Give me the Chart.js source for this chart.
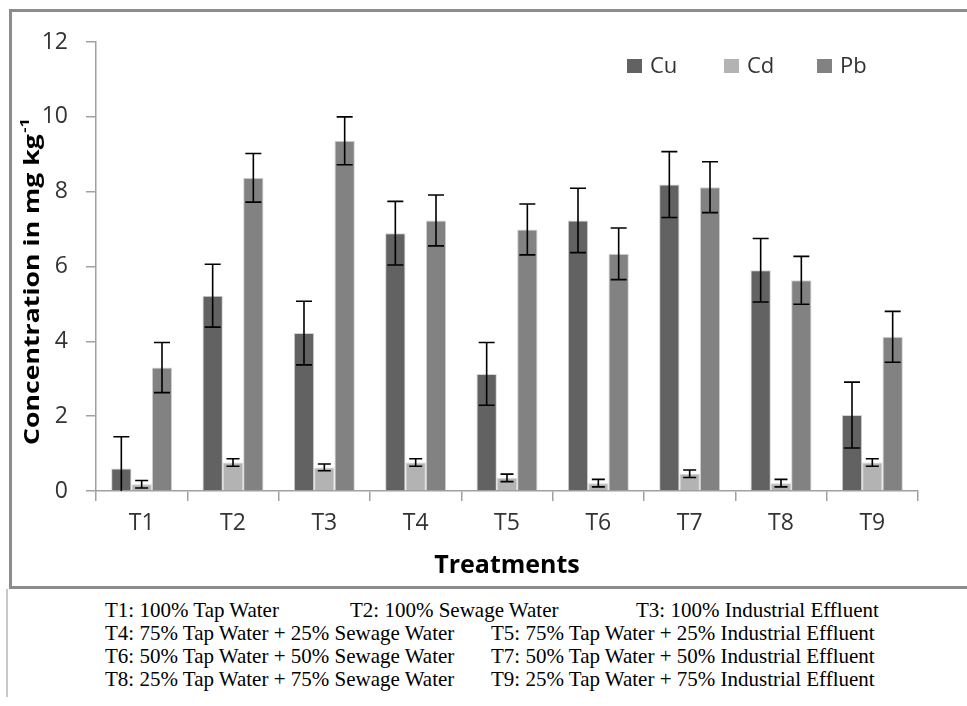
<!DOCTYPE html>
<html>
<head>
<meta charset="utf-8">
<script src="https://cdn.jsdelivr.net/npm/chart.js@4.4.1/dist/chart.umd.min.js"></script>
<style>
  html, body { margin: 0; padding: 0; background: #fff; }
  body { width: 967px; height: 706px; position: relative; overflow: hidden; }
  #wrap { position: absolute; left: 0; top: 0; width: 967px; height: 585px; }
  #frame { position: absolute; left: 9px; top: 9px; width: 980px; height: 574px;
           border: 3px solid #8c8c8c; pointer-events: none; }
  #lowline { position: absolute; left: 6px; top: 589px; width: 2px; height: 108px; background: #c8c8c8; }
  .note { position: absolute; font-family: "Liberation Serif", "Times New Roman", serif;
          font-size: 21px; color: #000; white-space: nowrap; line-height: 23px; }
</style>
</head>
<body>
<div id="wrap"><canvas id="chart" width="967" height="585"></canvas></div>
<div id="frame"></div>
<div id="lowline"></div>

<div class="note" style="left:105px; top:599px">T1: 100% Tap Water</div>
<div class="note" style="left:350px; top:599px">T2: 100% Sewage Water</div>
<div class="note" style="left:636px; top:599px">T3: 100% Industrial Effluent</div>
<div class="note" style="left:105px; top:622px">T4: 75% Tap Water + 25% Sewage Water</div>
<div class="note" style="left:491px; top:622px">T5: 75% Tap Water + 25% Industrial Effluent</div>
<div class="note" style="left:105px; top:645px">T6: 50% Tap Water + 50% Sewage Water</div>
<div class="note" style="left:491px; top:645px">T7: 50% Tap Water + 50% Industrial Effluent</div>
<div class="note" style="left:105px; top:668px">T8: 25% Tap Water + 75% Sewage Water</div>
<div class="note" style="left:491px; top:668px">T9: 25% Tap Water + 75% Industrial Effluent</div>

<script>
// Data
const treatments = ['T1', 'T2', 'T3', 'T4', 'T5', 'T6', 'T7', 'T8', 'T9'];
const cu    = [0.60, 5.22, 4.22, 6.89, 3.13, 7.23, 8.19, 5.90, 2.03];
const cuErr = [0.85, 0.84, 0.85, 0.85, 0.84, 0.86, 0.88, 0.85, 0.88];
const cd    = [0.18, 0.76, 0.63, 0.76, 0.35, 0.21, 0.46, 0.21, 0.76];
const cdErr = [0.10, 0.10, 0.09, 0.10, 0.10, 0.10, 0.10, 0.10, 0.10];
const pb    = [3.30, 8.37, 9.36, 7.23, 6.99, 6.34, 8.12, 5.63, 4.12];
const pbErr = [0.67, 0.65, 0.64, 0.68, 0.68, 0.69, 0.68, 0.64, 0.68];
const yTicks = [0, 2, 4, 6, 8, 10, 12];

const TXT = '#333333';
const FONT = '"Open Sans", "Liberation Sans", sans-serif';

// Error bars drawn on top of each bar
const errorBars = {
  id: 'errorBars',
  afterDatasetsDraw(chart) {
    const { ctx, scales: { y }, chartArea } = chart;
    ctx.save();
    ctx.strokeStyle = '#000';
    ctx.lineWidth = 1.6;
    chart.data.datasets.forEach((ds, di) => {
      const meta = chart.getDatasetMeta(di);
      const half = ds.capHalf || 8;
      meta.data.forEach((bar, i) => {
        const v = ds.data[i], e = ds.errors[i];
        const top = y.getPixelForValue(v + e);
        const bot = Math.min(y.getPixelForValue(v - e), chartArea.bottom);
        ctx.beginPath();
        ctx.moveTo(bar.x, top); ctx.lineTo(bar.x, bot);
        ctx.moveTo(bar.x - half, top); ctx.lineTo(bar.x + half, top);
        if (v - e > 0) { ctx.moveTo(bar.x - half, bot); ctx.lineTo(bar.x + half, bot); }
        ctx.stroke();
      });
    });
    ctx.restore();
  }
};

// Legend inside the plot, top right
const legendBox = {
  id: 'legendBox',
  afterDraw(chart) {
    const ctx = chart.ctx;
    const xs = [627, 724, 817];
    const cy = 66;
    ctx.save();
    ctx.font = '22px ' + FONT;
    ctx.textBaseline = 'middle';
    chart.data.datasets.forEach((ds, i) => {
      ctx.fillStyle = ds.backgroundColor;
      ctx.fillRect(xs[i], cy - 7, 15, 14);
      ctx.fillStyle = TXT;
      ctx.fillText(ds.label, xs[i] + 23, cy + 1);
    });
    ctx.restore();
  }
};

// Rotated y-axis title with superscript
const yTitle = {
  id: 'yTitle',
  afterDraw(chart) {
    const ctx = chart.ctx;
    ctx.save();
    ctx.translate(33, 445);
    ctx.rotate(-Math.PI / 2);
    ctx.scale(1.27, 1);
    ctx.fillStyle = '#000';
    ctx.textBaseline = 'middle';
    ctx.font = 'bold 21px ' + FONT;
    const main = 'Concentration in mg kg';
    ctx.fillText(main, 0, 0);
    const w = ctx.measureText(main).width;
    ctx.font = 'bold 13px ' + FONT;
    ctx.fillText('-1', w + 1, -8);
    ctx.restore();
  }
};

new Chart(document.getElementById('chart'), {
  type: 'bar',
  data: {
    labels: treatments,
    datasets: [
      { label: 'Cu', data: cu, errors: cuErr, capHalf: 8, backgroundColor: '#626262' },
      { label: 'Cd', data: cd, errors: cdErr, capHalf: 6.5, backgroundColor: '#b3b3b3' },
      { label: 'Pb', data: pb, errors: pbErr, capHalf: 8, backgroundColor: '#828282' }
    ]
  },
  options: {
    responsive: false,
    animation: false,
    layout: { padding: { left: 0, right: 49, top: 42, bottom: 0 } },
    datasets: {
      bar: { categoryPercentage: 0.668, barPercentage: 1, borderWidth: 1, borderColor: '#d4d4d4' }
    },
    plugins: { legend: { display: false }, tooltip: { enabled: false } },
    scales: {
      x: {
        grid: { drawOnChartArea: false, drawTicks: true, tickLength: 10, color: '#a0a0a0', lineWidth: 1.5 },
        border: { color: '#a0a0a0', width: 1.5 },
        ticks: { color: TXT, font: { family: FONT, size: 23 }, padding: 9 },
        title: { display: true, text: 'Treatments', color: '#000',
                 font: { family: FONT, size: 25, weight: 'bold' }, padding: { top: 0, bottom: 4 } },
        afterFit(scale) { scale.height = 94; }
      },
      y: {
        min: 0, max: 12,
        afterBuildTicks(scale) { scale.ticks = yTicks.map(v => ({ value: v })); },
        grid: { drawOnChartArea: false, drawTicks: true, tickLength: 10, color: '#a0a0a0', lineWidth: 1.5 },
        border: { color: '#a0a0a0', width: 1.5 },
        ticks: { color: TXT, font: { family: FONT, size: 23 }, padding: 18 },
        afterFit(scale) { scale.width = 96; }
      }
    }
  },
  plugins: [errorBars, legendBox, yTitle]
});
</script>
</body>
</html>
